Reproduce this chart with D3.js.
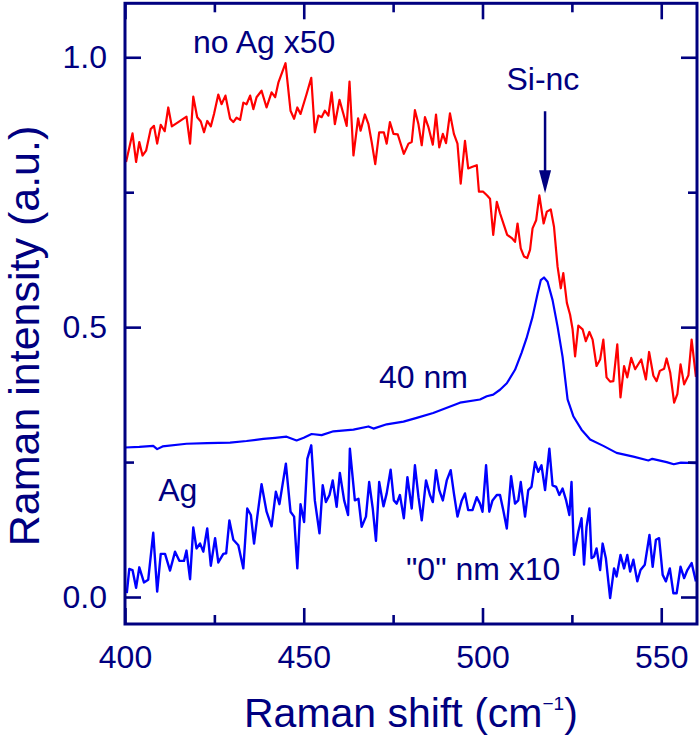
<!DOCTYPE html>
<html>
<head>
<meta charset="utf-8">
<script src="https://cdn.jsdelivr.net/npm/d3@7"></script>
<style>
  html, body { margin: 0; padding: 0; background: #fff; }
  svg { display: block; }
  text { font-family: "Liberation Sans", Arial, sans-serif; fill: #000080; }
</style>
</head>
<body>
<svg id="chart" width="700" height="739"></svg>
<script>
// ---------------- data (Raman shift cm^-1, intensity a.u.) ----------------
const noAgX = [400.3,402.1,403.1,404.0,404.9,405.9,407.2,408.1,409.0,410.0,411.1,412.1,413.1,414.9,417.2,418.2,419.1,420.2,421.2,422.1,423.0,424.0,424.9,426.1,427.0,428.1,429.4,430.3,431.2,432.2,433.1,434.0,435.0,435.9,436.8,438.2,439.6,441.0,442.0,442.9,444.9,446.3,447.3,448.2,449.1,450.8,452.1,453.1,454.1,455.0,455.9,456.9,457.8,458.7,460.0,461.1,462.0,462.8,463.9,465.2,465.9,467.1,468.1,469.0,470.0,471.1,472.4,473.2,474.1,475.1,476.3,478.0,479.3,480.2,481.1,482.05,483.0,483.9,484.9,486.1,487.0,487.9,488.9,489.8,490.9,492.0,493.0,493.9,495.1,496.0,497.2,498.4,499.0,500.2,501.3,502.1,503.0,504.0,504.9,506.0,506.9,508.2,509.1,509.8,510.7,511.6,512.5,513.3,514.0,515.0,515.9,517.1,518.0,519.1,520.0,521.0,521.9,522.6,523.6,524.5,525.2,525.9,526.8,528.0,528.9,529.9,530.8,531.9,532.9,533.8,534.7,535.7,536.6,537.7,538.6,539.6,540.5,541.6,542.7,544.4,545.7,546.6,547.8,548.7,549.6,550.8,551.5,552.5,553.6,554.5,555.4,556.4,557.6,558.5,559.7];
const noAgY = [0.806,0.859,0.806,0.843,0.818,0.827,0.867,0.873,0.840,0.875,0.863,0.907,0.872,0.880,0.890,0.840,0.927,0.889,0.881,0.861,0.882,0.872,0.895,0.931,0.913,0.929,0.886,0.880,0.888,0.884,0.916,0.913,0.929,0.904,0.926,0.938,0.907,0.935,0.926,0.953,0.989,0.901,0.886,0.907,0.895,0.932,0.962,0.861,0.892,0.889,0.901,0.892,0.935,0.876,0.921,0.895,0.873,0.955,0.818,0.887,0.864,0.894,0.876,0.843,0.802,0.861,0.861,0.840,0.880,0.858,0.857,0.821,0.840,0.843,0.902,0.877,0.837,0.889,0.870,0.838,0.894,0.833,0.858,0.841,0.896,0.858,0.840,0.766,0.845,0.794,0.797,0.800,0.751,0.751,0.744,0.738,0.671,0.732,0.711,0.689,0.671,0.665,0.658,0.692,0.646,0.631,0.628,0.643,0.683,0.698,0.744,0.692,0.714,0.718,0.686,0.612,0.572,0.600,0.545,0.523,0.496,0.446,0.503,0.496,0.474,0.491,0.477,0.428,0.440,0.477,0.407,0.399,0.400,0.468,0.370,0.428,0.407,0.443,0.422,0.440,0.403,0.454,0.410,0.400,0.419,0.423,0.442,0.416,0.360,0.376,0.431,0.394,0.411,0.477,0.408];

const nm40X = [400.0,404.0,407.9,409.0,410.5,417.2,423.0,429.4,434.0,438.7,442.0,445.2,448.0,450.0,452.2,455.0,458.3,463.9,468.1,469.5,473.2,477.9,481.6,486.2,493.7,499.3,501.2,503.0,504.9,506.8,509.1,510.9,512.3,514.0,515.4,516.3,517.2,518.2,519.6,521.0,522.4,523.8,525.4,527.7,530.1,533.8,537.5,542.2,546.4,547.5,551.5,553.5,555.5,559.9];
const nm40Y = [0.277,0.278,0.280,0.274,0.279,0.284,0.285,0.286,0.289,0.293,0.295,0.297,0.290,0.295,0.302,0.300,0.307,0.310,0.316,0.312,0.320,0.325,0.332,0.341,0.360,0.366,0.372,0.375,0.384,0.396,0.421,0.452,0.479,0.519,0.562,0.587,0.592,0.584,0.550,0.501,0.445,0.366,0.335,0.310,0.292,0.280,0.267,0.260,0.253,0.256,0.250,0.246,0.249,0.248];

const nm0X = [400.5,401.2,402.1,403.1,404.0,405.3,406.5,407.9,409.0,410.0,411.2,412.6,414.0,415.2,416.5,417.2,418.2,419.1,420.0,421.0,421.9,423.0,424.0,425.2,426.1,427.5,428.3,429.2,430.3,431.7,433.1,434.2,435.2,436.1,437.0,438.2,439.6,441.0,442.2,443.2,445.0,446.3,447.3,448.2,449.1,450.1,451.0,452.1,453.1,454.4,455.3,456.2,457.2,458.1,459.2,460.1,461.3,462.4,462.9,464.3,465.3,466.2,467.4,468.3,469.3,470.2,471.1,472.3,473.2,474.3,475.2,476.0,476.9,478.0,479.0,480.2,481.1,482.1,483.0,484.2,485.3,486.1,487.0,487.9,488.9,490.0,491.1,492.0,493.0,494.2,495.1,496.0,497.2,498.4,499.3,500.0,501.0,501.9,502.8,504.0,504.9,505.8,506.8,508.0,509.1,510.0,510.7,511.9,512.8,513.7,514.7,515.6,516.5,517.5,518.7,519.6,520.6,521.5,522.4,523.4,524.3,524.9,525.6,526.8,527.7,528.4,529.1,529.9,530.5,531.2,531.9,532.9,533.6,534.5,535.7,536.8,537.5,538.6,539.6,540.5,541.3,542.2,543.3,544.2,545.4,546.7,547.6,548.5,549.4,550.4,551.3,552.4,553.4,554.3,555.4,556.4,557.3,558.5,559.7];
const nm0Y = [0.007,0.052,0.050,0.017,0.055,0.027,0.032,0.119,0.010,0.080,0.080,0.049,0.084,0.067,0.067,0.086,0.033,0.129,0.090,0.099,0.084,0.127,0.058,0.109,0.064,0.080,0.081,0.142,0.106,0.096,0.053,0.164,0.152,0.099,0.149,0.209,0.158,0.131,0.195,0.172,0.247,0.158,0.149,0.053,0.172,0.139,0.256,0.281,0.179,0.118,0.207,0.176,0.189,0.216,0.167,0.230,0.179,0.152,0.275,0.179,0.182,0.130,0.149,0.213,0.164,0.104,0.213,0.168,0.192,0.236,0.179,0.173,0.189,0.146,0.222,0.164,0.244,0.185,0.142,0.216,0.189,0.176,0.235,0.198,0.179,0.216,0.235,0.192,0.149,0.179,0.192,0.161,0.161,0.185,0.173,0.158,0.244,0.158,0.179,0.189,0.189,0.161,0.127,0.224,0.173,0.179,0.213,0.149,0.198,0.204,0.250,0.232,0.244,0.198,0.275,0.207,0.204,0.189,0.201,0.179,0.152,0.213,0.078,0.121,0.146,0.060,0.130,0.164,0.072,0.075,0.090,0.050,0.099,0.072,-0.002,0.053,0.038,0.078,0.053,0.078,0.047,0.069,0.029,0.050,0.060,0.115,0.056,0.106,0.109,0.041,0.029,0.053,0.007,0.007,0.056,0.035,0.050,0.063,0.029];

const xMajorTicks = [400, 450, 500, 550];
const xMinorTicks = [425, 475, 525];
const yMajorTicks = [0.0, 0.5, 1.0];
const yMinorTicks = [0.25, 0.75];
const xDomain = [400, 560];
const yDomain = [-0.05, 1.1];

// annotations (in data units)
const labels = [
  {text: "no Ag x50", x: 419.0, y: 1.008, anchor: "start"},
  {text: "Si-nc", x: 516.9, y: 0.939, anchor: "middle"},
  {text: "40 nm", x: 495.9, y: 0.387, anchor: "end"},
  {text: "Ag", x: 409.3, y: 0.177, anchor: "start"},
  {text: "\"0\" nm x10", x: 478.6, y: 0.0315, anchor: "start"}
];
const arrowX = 517.5, arrowFrom = 0.90, arrowTo = 0.748;

// ---------------- drawing ----------------
const navy = "#000080";
const svg = d3.select("#chart");
const L = 125, R = 697, T = 3.3, B = 624;
const x = d3.scaleLinear().domain(xDomain).range([L, R]);
const y = d3.scaleLinear().domain(yDomain).range([B, T]);

svg.append("defs").append("clipPath").attr("id", "clip")
  .append("rect").attr("x", L).attr("y", T).attr("width", R - L).attr("height", B - T);

const line = d3.line().x(d => x(d[0])).y(d => y(d[1]));
const plot = svg.append("g").attr("clip-path", "url(#clip)");
const series = [
  {xs: noAgX, ys: noAgY, color: "#ff0000", w: 2.2},
  {xs: nm40X, ys: nm40Y, color: "#0000ff", w: 2.2},
  {xs: nm0X, ys: nm0Y, color: "#0000ff", w: 2.4}
];
series.forEach(s => {
  plot.append("path")
    .datum(s.xs.map((v, i) => [v, s.ys[i]]))
    .attr("fill", "none").attr("stroke", s.color)
    .attr("stroke-width", s.w).attr("stroke-linejoin", "round")
    .attr("d", line);
});

function styleAxis(g) {
  g.select(".domain").remove();
  g.selectAll(".tick line").attr("stroke", navy).attr("stroke-width", 2.6);
  g.selectAll(".tick text").attr("fill", navy)
    .style("font-family", '"Liberation Sans", Arial, sans-serif').style("font-size", "32px");
}
// bottom
svg.append("g").attr("transform", `translate(0,${B})`)
  .call(d3.axisBottom(x).tickValues(xMajorTicks).tickSize(-16).tickPadding(21).tickFormat(d3.format("d")))
  .call(styleAxis);
svg.append("g").attr("transform", `translate(0,${B})`)
  .call(d3.axisBottom(x).tickValues(xMinorTicks).tickSize(-9).tickFormat(""))
  .call(styleAxis);
// top
svg.append("g").attr("transform", `translate(0,${T})`)
  .call(d3.axisTop(x).tickValues(xMajorTicks).tickSize(-16).tickFormat(""))
  .call(styleAxis);
svg.append("g").attr("transform", `translate(0,${T})`)
  .call(d3.axisTop(x).tickValues(xMinorTicks).tickSize(-9).tickFormat(""))
  .call(styleAxis);
// left
svg.append("g").attr("transform", `translate(${L},0)`)
  .call(d3.axisLeft(y).tickValues(yMajorTicks).tickSize(-16).tickPadding(18).tickFormat(d3.format(".1f")))
  .call(styleAxis);
svg.append("g").attr("transform", `translate(${L},0)`)
  .call(d3.axisLeft(y).tickValues(yMinorTicks).tickSize(-9).tickFormat(""))
  .call(styleAxis);
// right
svg.append("g").attr("transform", `translate(${R},0)`)
  .call(d3.axisRight(y).tickValues(yMajorTicks).tickSize(-16).tickFormat(""))
  .call(styleAxis);
svg.append("g").attr("transform", `translate(${R},0)`)
  .call(d3.axisRight(y).tickValues(yMinorTicks).tickSize(-9).tickFormat(""))
  .call(styleAxis);

// frame
svg.append("rect").attr("x", L).attr("y", T).attr("width", R - L).attr("height", B - T)
  .attr("fill", "none").attr("stroke", navy).attr("stroke-width", 3);

// labels
labels.forEach(l => {
  svg.append("text").attr("x", x(l.x)).attr("y", y(l.y))
    .attr("text-anchor", l.anchor).style("font-size", "32px").text(l.text);
});

// arrow
svg.append("line").attr("x1", x(arrowX)).attr("x2", x(arrowX))
  .attr("y1", y(arrowFrom)).attr("y2", y(arrowTo) - 18)
  .attr("stroke", navy).attr("stroke-width", 2.5);
const ax = x(arrowX), ay = y(arrowTo);
svg.append("path").attr("fill", navy)
  .attr("d", `M${ax - 6},${ay - 23} L${ax + 6},${ay - 23} L${ax},${ay} Z`);

// axis titles
svg.append("text").attr("transform", "translate(39,336) rotate(-90)")
  .attr("text-anchor", "middle").style("font-size", "43px").text("Raman intensity (a.u.)");

const xt = svg.append("text").attr("x", 244).attr("y", 727).style("font-size", "41px");
xt.append("tspan").text("Raman shift (cm");
xt.append("tspan").style("font-size", "19px").attr("dy", -17).text("\u22121");
xt.append("tspan").attr("dy", 17).text(")");
</script>
</body>
</html>
